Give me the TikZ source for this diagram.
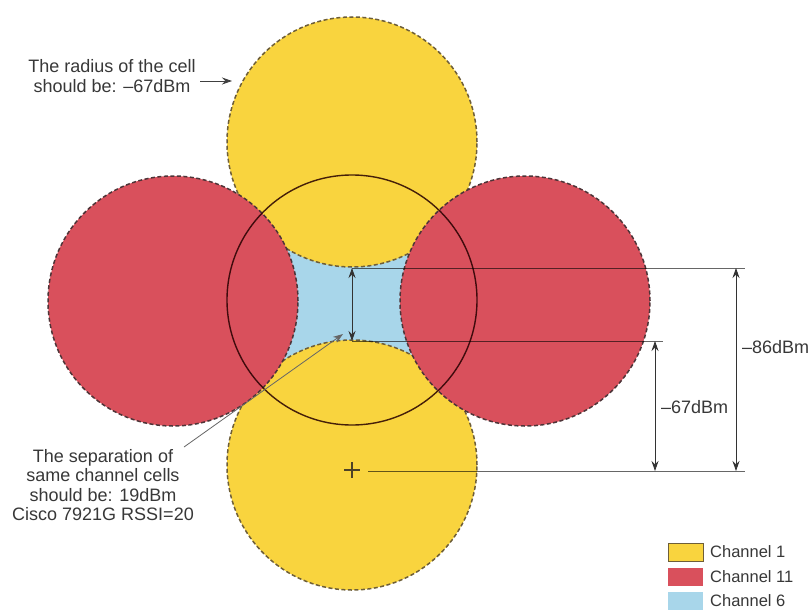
\documentclass[tikz,border=0pt]{standalone}
\usepackage{fontspec}
\setmainfont{Liberation Sans}
\usetikzlibrary{arrows.meta}
\definecolor{cyel}{HTML}{F9D43E}
\definecolor{cyeld}{HTML}{6E5E38}
\definecolor{cred}{HTML}{D9505C}
\definecolor{credd}{HTML}{4E3438}
\definecolor{cblue}{HTML}{A8D6EA}
\definecolor{ctext}{HTML}{383838}
\begin{document}
\begin{tikzpicture}[x=1pt,y=-1pt,
  yelcell/.style={circle, minimum size=250pt, inner sep=0pt, fill=cyel, draw=cyeld, dash pattern=on 4pt off 2.5pt, line width=1.5pt},
  redcell/.style={circle, minimum size=250pt, inner sep=0pt, fill=cred, draw=credd, dash pattern=on 4pt off 2.5pt, line width=1.5pt},
  ringcell/.style={circle, minimum size=250pt, inner sep=0pt, draw=black!85!red, draw opacity=0.85, line width=1.4pt},
  dimline/.style={draw=black, draw opacity=0.6, line width=0.8pt},
  dimarrow/.style={draw=black!80, line width=0.8pt, {Stealth[length=10pt,width=7pt]}-{Stealth[length=10pt,width=7pt]}},
  ptrarrow/.style={draw=black!75, line width=0.8pt, -{Stealth[length=10pt,width=7pt]}},
  lbl/.style={text=ctext, font=\fontsize{18}{19.5}\selectfont, inner sep=0pt},
  leglbl/.style={text=ctext, font=\fontsize{16.5}{19}\selectfont, inner sep=0pt, anchor=base west},
  legbox/.style={minimum width=35pt, minimum height=18pt, inner sep=0pt}
]
\useasboundingbox (0,0) rectangle (811,610);
\fill[white] (0,0) rectangle (811,610);
% channel 6 (blue) gap between the four cells
\fill[cblue] (286.4,248.4) -- (417.6,248.4) -- (421.4,361) -- (282.6,361) -- cycle;
% channel 1 cells
\node[yelcell] (ytop) at (352,142) {};
\node[yelcell] (ybot) at (352,465) {};
% channel 11 cells
\node[redcell] (rleft) at (173,301) {};
\node[redcell] (rright) at (525,301) {};
% cell outline
\node[ringcell] (ring) at (352,300) {};
% plus
\draw[cyeld!70!black, line width=1.2pt] (344,470) -- (360,470) (352,462) -- (352,478);
% dimension lines
\coordinate (ta) at (352,268);
\coordinate (tb) at (745,268);
\coordinate (ma) at (352,341);
\coordinate (mb) at (663,341);
\coordinate (ba) at (368,471);
\coordinate (bb) at (745,471);
\draw[dimline] (ta) -- (tb);
\draw[dimline] (ma) -- (mb);
\draw[dimline] (ba) -- (bb);
\draw[dimarrow] (ta) -- (ma);
\coordinate (a86t) at (736,268);
\coordinate (a86b) at (736,471);
\coordinate (a67t) at (655,341);
\coordinate (a67b) at (655,471);
\draw[dimarrow] (a86t) -- (a86b);
\draw[dimarrow] (a67t) -- (a67b);
\node[lbl, anchor=west] (l86) at (742,347) {–86dBm};
\node[lbl, anchor=west] (l67) at (661,407) {–67dBm};
% annotations
\node[lbl, align=center] (radius) at (112,76) {The radius of the cell\\should be: –67dBm};
\coordinate (ras) at (200,81);
\coordinate (rae) at (232,81);
\draw[ptrarrow] (ras) -- (rae);
\node[lbl, align=center] (sep) at (103,485) {The separation of\\same channel cells\\should be: 19dBm\\Cisco 7921G RSSI=20};
\coordinate (ss) at (184,447);
\coordinate (se) at (343,334);
\draw[ptrarrow, draw=black!60] (ss) -- (se);
% legend
\node[legbox, fill=cyel, draw=cyeld, line width=0.8pt] (lg1) at (685.5,552.5) {};
\node[legbox, fill=cred] (lg2) at (685.5,576.5) {};
\node[legbox, fill=cblue] (lg3) at (685.5,601) {};
\node[leglbl] (lt1) at (710,557) {Channel 1};
\node[leglbl] (lt2) at (710,582) {Channel 11};
\node[leglbl] (lt3) at (710,606) {Channel 6};
\end{tikzpicture}
\end{document}
